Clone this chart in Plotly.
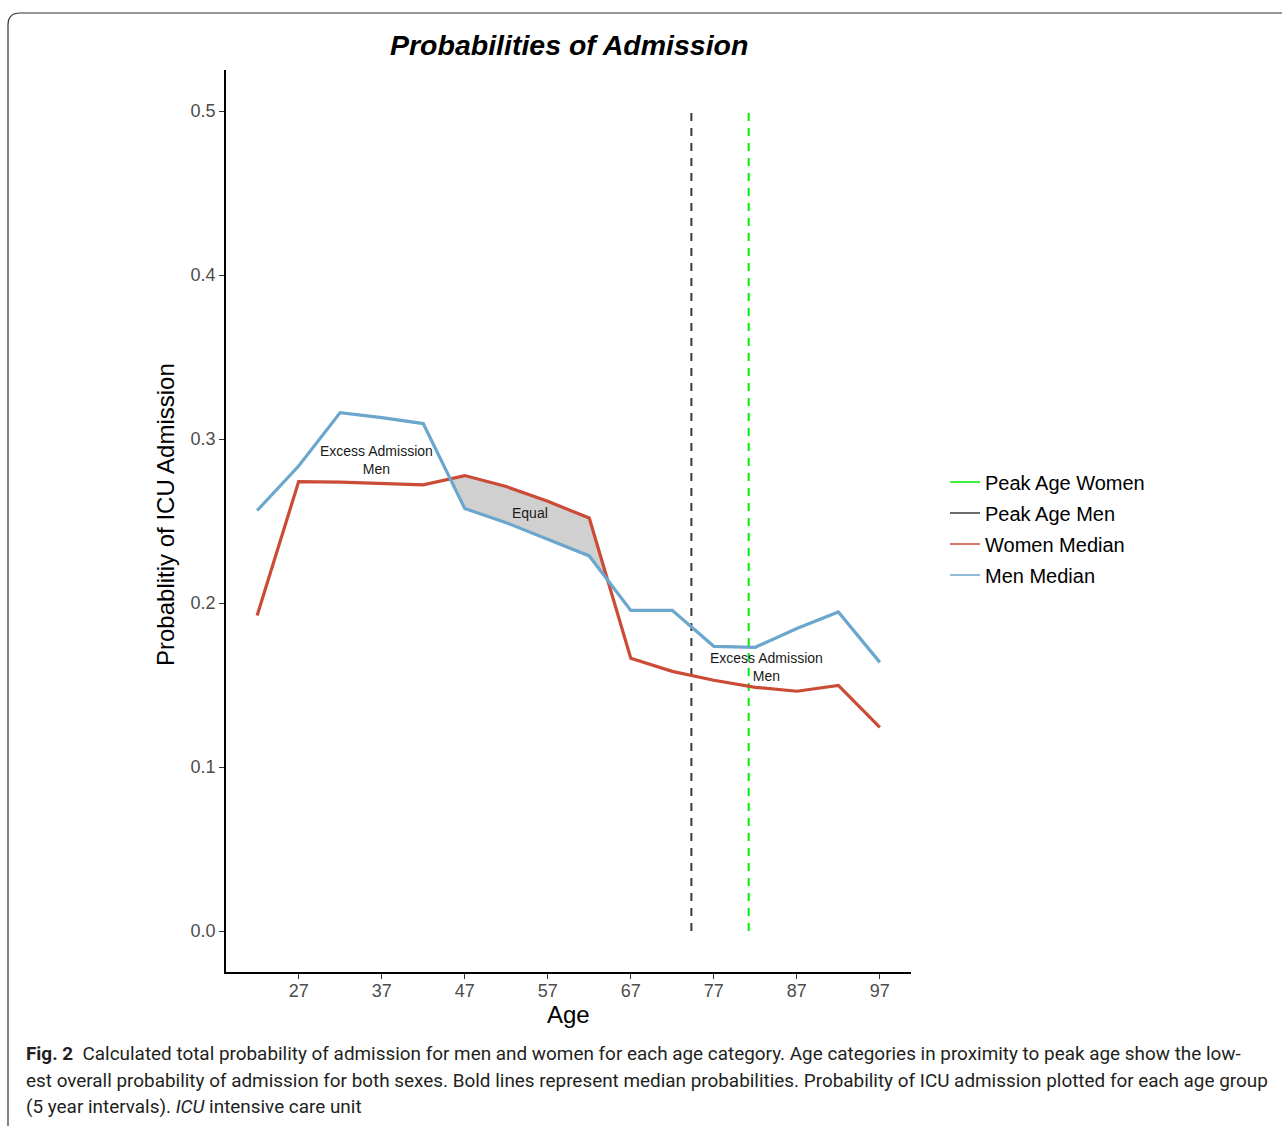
import plotly.graph_objects as go

# ---------------- data ----------------
ages = [22, 27, 32, 37, 42, 47, 52, 57, 62, 67, 72, 77, 82, 87, 92, 97]
men_median = [0.2564, 0.2835, 0.3161, 0.3130, 0.3094, 0.2576, 0.2490, 0.2387, 0.2287,
              0.1955, 0.1955, 0.1736, 0.1730, 0.1845, 0.1945, 0.1638]
women_median = [0.1924, 0.2740, 0.2737, 0.2728, 0.2720, 0.2777, 0.2710, 0.2620, 0.2518,
                0.1663, 0.1583, 0.1529, 0.1486, 0.1462, 0.1498, 0.1242]
peak_age_men = 74.3
peak_age_women = 81.2
x_ticks = [27, 37, 47, 57, 67, 77, 87, 97]
y_ticks = [0.0, 0.1, 0.2, 0.3, 0.4, 0.5]

labels = [
    {"x": 36.4, "y": 0.2875, "text": "Excess Admission<br>Men"},
    {"x": 54.9, "y": 0.2546, "text": "Equal"},
    {"x": 83.3, "y": 0.1610, "text": "Excess Admission<br>Men"},
]

caption_lines = [
    "<b>Fig. 2</b>  Calculated total probability of admission for men and women for each age category. Age categories in proximity to peak age show the low-",
    "est overall probability of admission for both sexes. Bold lines represent median probabilities. Probability of ICU admission plotted for each age group",
    "(5 year intervals). <i>ICU</i> intensive care unit",
]

# ---------------- layout geometry (pixels) ----------------
W, H = 1282, 1126
PL, PR, PT, PB = 226, 911, 70, 972  # plot area


def px_x(px):
    return (px - PL) / (PR - PL)


def px_y(py):
    return (PB - py) / (PB - PT)


RED = "#CB4B36"
BLUE = "#6BA6CD"
GREEN = "#00EE00"
DARK = "#3A3A3A"


def positive_regions(x, a, b):
    """Segments where a > b, with interpolated crossing points."""
    regions, cur = [], None
    for i in range(len(x)):
        d = a[i] - b[i]
        if i > 0:
            dp = a[i - 1] - b[i - 1]
            if (dp <= 0) != (d <= 0):
                t = dp / (dp - d)
                xc = x[i - 1] + t * (x[i] - x[i - 1])
                yc = a[i - 1] + t * (a[i] - a[i - 1])
                if cur is None:
                    cur = [(xc, yc, yc)]
                else:
                    cur.append((xc, yc, yc))
                    regions.append(cur)
                    cur = None
        if d > 0:
            if cur is None:
                cur = []
            cur.append((x[i], a[i], b[i]))
    if cur:
        regions.append(cur)
    return regions


fig = go.Figure()

# shaded ribbon where women > men
for reg in positive_regions(ages, women_median, men_median):
    xs = [p[0] for p in reg]
    up = [p[1] for p in reg]
    lo = [p[2] for p in reg]
    fig.add_trace(go.Scatter(
        x=xs + xs[::-1], y=up + lo[::-1], fill="toself", fillcolor="#D0D0D0",
        line=dict(width=0), mode="lines", showlegend=False, hoverinfo="skip"))

# peak age vertical dashed lines
fig.add_trace(go.Scatter(x=[peak_age_men, peak_age_men], y=[0, 0.5], mode="lines",
                         line=dict(color=DARK, width=2, dash="8px,7px"), showlegend=False))
fig.add_trace(go.Scatter(x=[peak_age_women, peak_age_women], y=[0, 0.5], mode="lines",
                         line=dict(color=GREEN, width=2, dash="8px,7px"), showlegend=False))

# median lines
fig.add_trace(go.Scatter(x=ages, y=women_median, mode="lines",
                         line=dict(color=RED, width=3.2), showlegend=False))
fig.add_trace(go.Scatter(x=ages, y=men_median, mode="lines",
                         line=dict(color=BLUE, width=3.2), showlegend=False))

# legend entries (thin solid keys)
for name, col, grp in [("Peak Age Women", GREEN, "a"), ("Peak Age Men", DARK, "b"),
                       ("Women Median", RED, "c"), ("Men Median", BLUE, "d")]:
    fig.add_trace(go.Scatter(x=[None], y=[None], mode="lines", name=name, legendgroup=grp,
                             line=dict(color=col, width=1.6)))

annotations = []
for lab in labels:
    annotations.append(dict(x=lab["x"], y=lab["y"], xref="x", yref="y", text=lab["text"],
                            showarrow=False, font=dict(size=14, color="#1a1a1a",
                                                       family="Liberation Sans, Arial")))

# axis titles
annotations.append(dict(x=px_x(568.5), y=px_y(1014), xref="paper", yref="paper", text="Age",
                        showarrow=False, font=dict(size=24, color="#000000"),
                        xanchor="center", yanchor="middle"))
annotations.append(dict(x=px_x(165), y=px_y(515), xref="paper", yref="paper",
                        text="Probablitiy of ICU Admission", textangle=-90,
                        showarrow=False, font=dict(size=24, color="#000000"),
                        xanchor="center", yanchor="middle"))
# title
annotations.append(dict(x=px_x(569), y=px_y(45), xref="paper", yref="paper",
                        text="<b><i>Probabilities of Admission</i></b>",
                        showarrow=False, font=dict(size=28.5, color="#000000"),
                        xanchor="center", yanchor="middle"))
# caption
for i, (line, py) in enumerate(zip(caption_lines, [1053, 1080, 1106])):
    annotations.append(dict(x=px_x(24), y=px_y(py), xref="paper", yref="paper", text=line,
                            showarrow=False, xanchor="left", yanchor="middle", align="left",
                            font=dict(size=18.9, color="#231f20", family="Roboto, sans-serif")))

# rounded border (top & left)
bx0, by0, r = 8, 13, 12
path = (f"M {px_x(bx0)},{px_y(1140)} L {px_x(bx0)},{px_y(by0 + r)} "
        f"Q {px_x(bx0)},{px_y(by0)} {px_x(bx0 + r)},{px_y(by0)} L {px_x(1300)},{px_y(by0)}")

fig.update_layout(
    width=W, height=H,
    margin=dict(l=PL, r=W - PR, t=PT, b=H - PB),
    paper_bgcolor="white", plot_bgcolor="white",
    font=dict(family="Liberation Sans, Arial, sans-serif", color="#4D4D4D"),
    showlegend=True,
    legend=dict(x=px_x(945), y=px_y(528.5), xanchor="left", yanchor="middle",
                font=dict(size=20, color="#000000"), tracegroupgap=2,
                traceorder="grouped", bgcolor="rgba(0,0,0,0)"),
    annotations=annotations,
    shapes=[dict(type="path", path=path, xref="paper", yref="paper",
                 line=dict(color="#333333", width=1.2), layer="above")],
)

fig.update_xaxes(range=[18.25, 100.75], tickvals=x_ticks, ticktext=[str(t) for t in x_ticks],
                 showline=True, linecolor="#000000", linewidth=1.8, showgrid=False,
                 zeroline=False, ticks="outside", ticklen=5, tickwidth=1.2, tickcolor="#333333",
                 ticklabelstandoff=-4,
                 tickfont=dict(size=18, color="#4D4D4D"))
fig.update_yaxes(range=[-0.025, 0.525], tickvals=y_ticks, ticktext=[f"{t:.1f}" for t in y_ticks],
                 showline=True, linecolor="#000000", linewidth=1.8, showgrid=False,
                 zeroline=False, ticks="outside", ticklen=5, tickwidth=1.2, tickcolor="#333333",
                 tickfont=dict(size=18, color="#4D4D4D"))

fig.write_html("out.html", config={"displayModeBar": False},
               post_script="document.body.style.margin='0';document.body.style.overflow='hidden';")
